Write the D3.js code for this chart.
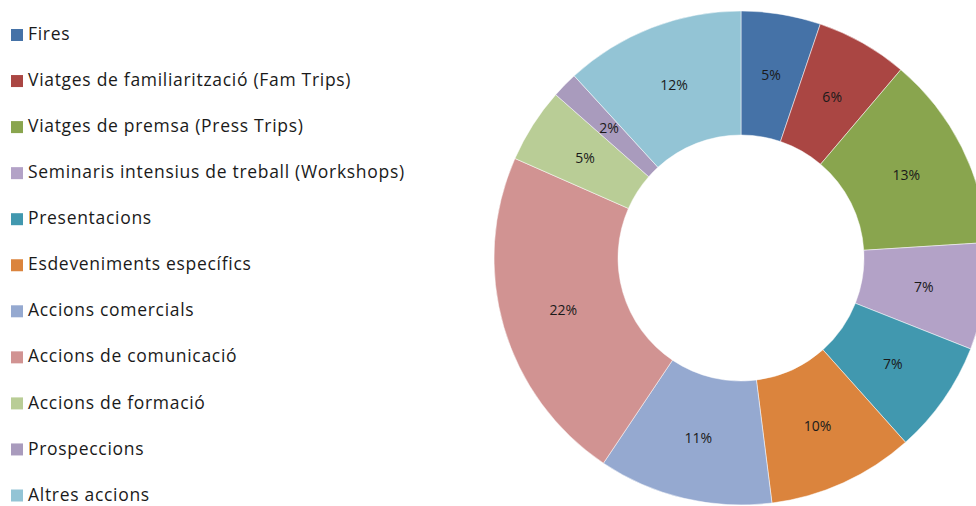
<!DOCTYPE html>
<html>
<head>
<meta charset="utf-8">
<script src="https://cdn.jsdelivr.net/npm/d3@7"></script>
<style>
  html, body { margin: 0; padding: 0; background: #fff; overflow: hidden; }
</style>
</head>
<body>
<div id="chart"></div>
<script>
const categories = [
  "Fires",
  "Viatges de familiarització (Fam Trips)",
  "Viatges de premsa (Press Trips)",
  "Seminaris intensius de treball (Workshops)",
  "Presentacions",
  "Esdeveniments específics",
  "Accions comercials",
  "Accions de comunicació",
  "Accions de formació",
  "Prospeccions",
  "Altres accions"
];
const values = [5.2, 6.0, 12.8, 7.0, 7.4, 9.6, 11.4, 22.2, 4.9, 1.7, 11.8];
const colors = ["#4572A7", "#AA4643", "#89A54E", "#B3A2C7", "#4198AF", "#DB843D",
                "#95A9D0", "#D19392", "#B9CD96", "#A99BBD", "#93C4D5"];

const width = 976, height = 506;
const cx = 741, cy = 258, outerR = 247, innerR = 123;

const svg = d3.select("#chart")
  .append("svg")
  .attr("width", width)
  .attr("height", height);

const total = d3.sum(values);
const pct = d3.format(".0%");

const pie = d3.pie().sort(null).value(d => d.value);
const arc = d3.arc().innerRadius(innerR).outerRadius(outerR);

const data = categories.map((c, i) => ({ name: c, value: values[i], color: colors[i] }));

const g = svg.append("g").attr("transform", `translate(${cx},${cy})`);

g.selectAll("path")
  .data(pie(data))
  .enter().append("path")
  .attr("d", arc)
  .attr("fill", d => d.data.color)
  .attr("stroke", "#fff")
  .attr("stroke-width", 0.5);

g.selectAll("text")
  .data(pie(data))
  .enter().append("text")
  .attr("transform", d => `translate(${arc.centroid(d)})`)
  .attr("text-anchor", "middle")
  .attr("dy", "0.35em")
  .attr("font-family", "'Open Sans', sans-serif")
  .attr("font-size", 14)
  .attr("fill", "#1a1a1a")
  .text(d => pct(d.data.value / total));

// legend
const legendY = d3.scalePoint().domain(categories).range([34, 494.5]);

const legend = svg.append("g");

legend.selectAll("rect")
  .data(data)
  .enter().append("rect")
  .attr("x", 11)
  .attr("y", d => legendY(d.name) - 5)
  .attr("width", 12)
  .attr("height", 12)
  .attr("fill", d => d.color);

legend.selectAll("text")
  .data(data)
  .enter().append("text")
  .attr("x", 28)
  .attr("y", d => legendY(d.name))
  .attr("dy", "0.35em")
  .attr("font-family", "'Open Sans', sans-serif")
  .attr("font-size", 17.5)
  .attr("letter-spacing", 0.7)
  .attr("fill", "#1a1a1a")
  .text(d => d.name);
</script>
</body>
</html>
